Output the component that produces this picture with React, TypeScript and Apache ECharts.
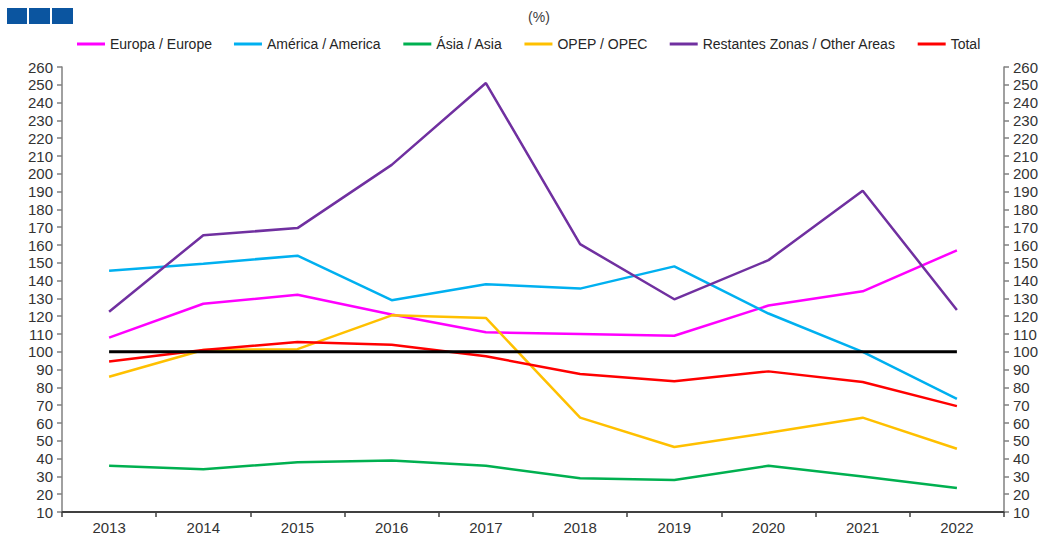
import React, { useEffect, useRef } from "react";
import * as echarts from "echarts";

const years = ["2013", "2014", "2015", "2016", "2017", "2018", "2019", "2020", "2021", "2022"];
const europa = [108, 127, 132, 121, 111, 110, 109, 126, 134, 157];
const america = [145.5, 149.5, 154, 129, 138, 135.5, 148, 121.5, 100, 73.5];
const asia = [36, 34, 38, 39, 36, 29, 28, 36, 30, 23.5];
const opep = [86, 101, 101.5, 120.5, 119, 63, 46.5, 54.5, 63, 45.5];
const outras = [122.5, 165.5, 169.5, 205, 251, 160.5, 129.5, 151.5, 190.5, 123.5];
const total = [94.5, 101, 105.5, 104, 97.5, 87.5, 83.5, 89, 83, 69.5];
const base = [100, 100, 100, 100, 100, 100, 100, 100, 100, 100];

const names = [
  "Europa / Europe",
  "América / America",
  "Ásia / Asia",
  "OPEP / OPEC",
  "Restantes Zonas / Other Areas",
  "Total",
];
const colors = ["#FF00FF", "#00B0F0", "#00B050", "#FFC000", "#7030A0", "#FF0000"];
const values = [europa, america, asia, opep, outras, total];

const FONT = "'Liberation Sans', Arial, sans-serif";

export default function App() {
  const ref = useRef<HTMLDivElement>(null);
  useEffect(() => {
    if (!ref.current) return;
    const chart = echarts.init(ref.current, undefined, { renderer: "svg" });
    const axisLabel = { color: "#333333", fontSize: 15, fontFamily: FONT };
    const yAxisBase = {
      type: "value" as const,
      min: 10,
      max: 260,
      interval: 10,
      splitLine: { show: false },
      axisLine: { show: true, lineStyle: { color: "#808080", width: 1.5 } },
      axisTick: { show: true, length: 5, lineStyle: { color: "#808080", width: 1.5 } },
    };
    chart.setOption({
      animation: false,
      backgroundColor: "#ffffff",
      textStyle: { fontFamily: FONT },
      graphic: [
        { type: "rect", shape: { x: 7, y: 8, width: 20, height: 16 }, style: { fill: "#0B55A0" } },
        { type: "rect", shape: { x: 29, y: 8, width: 21, height: 16 }, style: { fill: "#0B55A0" } },
        { type: "rect", shape: { x: 52, y: 8, width: 21, height: 16 }, style: { fill: "#0B55A0" } },
        {
          type: "text",
          x: 539,
          y: 17,
          style: {
            text: "(%)",
            fill: "#404040",
            font: "14px " + FONT,
            textAlign: "center",
            textVerticalAlign: "middle",
          },
        },
      ],
      legend: {
        data: names,
        top: 32,
        left: 72,
        itemWidth: 28,
        itemHeight: 3,
        itemGap: 22,
        icon: "rect",
        textStyle: { color: "#262626", fontSize: 14, fontFamily: FONT, padding: [0, 0, 0, 0] },
      },
      grid: { left: 62, right: 43, top: 67, bottom: 26, containLabel: false },
      xAxis: {
        type: "category",
        data: years,
        boundaryGap: true,
        axisLine: { show: true, lineStyle: { color: "#404040", width: 2 } },
        axisTick: { show: true, length: 5, alignWithLabel: false, lineStyle: { color: "#404040", width: 1.5 } },
        axisLabel: { ...axisLabel, margin: 8 },
      },
      yAxis: [
        { ...yAxisBase, position: "left", axisLabel: { ...axisLabel, margin: 9 } },
        { ...yAxisBase, position: "right", axisLabel: { ...axisLabel, margin: 9 } },
      ],
      series: [
        ...names.map((n, i) => ({
          name: n,
          type: "line",
          data: values[i],
          symbol: "none",
          yAxisIndex: 0,
          itemStyle: { color: colors[i] },
          lineStyle: { color: colors[i], width: 2.5 },
          z: 2,
        })),
        {
          name: "Base 100",
          type: "line",
          data: base,
          symbol: "none",
          yAxisIndex: 0,
          itemStyle: { color: "#000000" },
          lineStyle: { color: "#000000", width: 3 },
          z: 3,
        },
      ],
    });
    return () => chart.dispose();
  }, []);
  return (
    <div
      ref={ref}
      style={{ position: "absolute", left: 0, top: 0, width: 1047, height: 538 }}
    />
  );
}
